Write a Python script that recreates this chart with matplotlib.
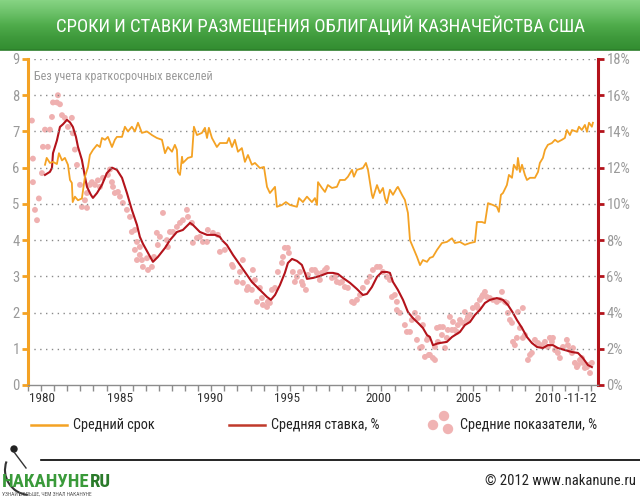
import numpy as np
import matplotlib
matplotlib.use('Agg')
import matplotlib.pyplot as plt
from matplotlib import font_manager
from matplotlib.patches import Circle, Arc
from matplotlib.colors import LinearSegmentedColormap

# ---------------- data ----------------
maturity_years = [1980.18,1980.28,1980.47,1980.65,1980.88,1981.00,1981.18,1981.35,1981.53,1981.65,1981.76,1981.81,1981.94,1982.12,1982.35,1982.53,1982.71,1982.82,1983.00,1983.24,1983.41,1983.53,1983.71,1983.88,1984.12,1984.29,1984.41,1984.71,1984.88,1985.06,1985.29,1985.47,1985.65,1985.88,1986.18,1986.47,1986.76,1987.06,1987.24,1987.41,1987.65,1987.82,1987.94,1988.00,1988.12,1988.24,1988.29,1988.59,1988.82,1988.94,1989.12,1989.41,1989.59,1989.71,1989.82,1990.00,1990.29,1990.47,1990.88,1991.00,1991.18,1991.35,1991.53,1991.76,1991.94,1992.12,1992.35,1992.53,1992.82,1993.06,1993.24,1993.41,1993.71,1993.82,1994.12,1994.35,1994.59,1995.00,1995.12,1995.35,1995.59,1995.88,1996.06,1996.18,1996.24,1996.47,1996.65,1996.82,1997.06,1997.35,1997.53,1997.82,1998.00,1998.24,1998.35,1998.53,1998.88,1999.06,1999.18,1999.41,1999.47,1999.71,1999.88,2000.06,2000.18,2000.29,2000.47,2000.65,2000.88,2000.94,2001.18,2001.35,2001.53,2001.65,2001.82,2002.06,2002.24,2002.41,2002.65,2002.82,2003.00,2003.24,2003.53,2003.82,2004.12,2004.29,2004.59,2004.88,2005.18,2005.47,2005.59,2005.88,2006.06,2006.24,2006.53,2006.76,2006.88,2007.00,2007.12,2007.35,2007.47,2007.65,2007.76,2007.94,2008.00,2008.12,2008.24,2008.41,2008.53,2008.71,2009.00,2009.18,2009.29,2009.47,2009.59,2009.76,2010.00,2010.18,2010.35,2010.59,2010.76,2010.88,2011.06,2011.18,2011.47,2011.59,2011.76,2011.94,2012.06,2012.18,2012.35,2012.41]
maturity_values = [6.08,6.27,6.13,6.16,6.10,6.40,6.20,6.27,6.08,5.66,5.58,5.05,5.20,5.10,5.15,5.75,6.02,6.35,6.49,6.63,6.57,6.82,6.77,6.85,6.57,6.77,6.85,6.85,7.13,7.00,7.13,7.00,7.24,6.96,7.00,6.90,6.82,6.77,6.40,6.57,6.44,6.63,6.49,5.88,5.80,6.30,6.13,6.27,6.30,7.13,6.90,6.96,7.10,6.82,7.10,6.82,6.57,6.68,6.68,6.82,6.57,6.77,6.44,6.54,6.16,6.35,6.08,6.13,5.99,6.02,5.47,5.30,5.47,4.92,4.97,5.05,4.97,4.92,5.16,5.05,5.20,5.05,5.16,4.97,5.60,5.44,5.33,5.52,5.44,5.47,5.66,5.66,5.75,5.94,5.75,5.94,5.99,6.13,5.94,5.25,5.16,5.52,5.30,5.44,5.16,5.02,5.39,5.25,5.44,5.47,5.25,5.11,4.75,4.00,3.81,3.54,3.31,3.45,3.40,3.51,3.54,3.73,3.92,3.95,4.05,3.92,3.95,3.87,3.92,3.95,4.50,4.50,4.47,5.02,4.97,4.92,4.78,5.25,5.30,5.52,5.80,5.72,6.08,5.94,6.27,5.88,6.08,5.80,5.66,5.72,5.72,5.88,6.13,6.27,6.49,6.63,6.68,6.77,6.71,6.77,6.82,7.04,6.90,7.04,6.99,7.13,7.04,7.18,6.99,7.24,7.13,7.24]

rate_years = [1980.18,1980.47,1980.59,1980.65,1980.88,1981.06,1981.24,1981.47,1981.65,1981.82,1982.00,1982.12,1982.35,1982.53,1982.65,1982.88,1983.00,1983.24,1983.53,1983.82,1984.12,1984.41,1984.71,1985.00,1985.29,1985.59,1985.76,1985.94,1986.24,1986.53,1986.82,1987.24,1987.53,1987.94,1988.29,1988.71,1988.88,1989.29,1989.71,1990.18,1990.47,1990.59,1990.88,1991.24,1991.65,1992.06,1992.35,1992.65,1992.94,1993.24,1993.47,1993.71,1994.00,1994.29,1994.47,1994.71,1995.00,1995.29,1995.47,1995.59,1995.94,1996.35,1996.82,1997.12,1997.41,1997.71,1998.12,1998.53,1998.88,1999.12,1999.41,1999.71,2000.00,2000.29,2000.47,2000.65,2000.94,2001.24,2001.53,2001.82,2002.12,2002.41,2002.65,2002.82,2003.00,2003.29,2003.82,2004.12,2004.59,2004.88,2005.18,2005.47,2005.76,2006.06,2006.35,2006.76,2007.12,2007.41,2007.71,2007.94,2008.24,2008.53,2008.82,2009.12,2009.47,2009.76,2010.06,2010.35,2010.76,2011.18,2011.53,2011.82,2012.12,2012.35]
rate_values = [11.60,11.77,11.99,12.80,13.50,14.25,14.40,14.64,14.50,14.25,13.70,13.15,12.43,11.50,10.94,10.50,10.33,10.60,11.05,11.70,12.00,11.88,11.44,10.60,9.67,8.84,8.18,7.80,7.29,6.80,7.07,7.57,8.00,8.45,8.56,8.95,8.84,8.45,8.29,8.29,8.18,8.00,7.73,7.18,6.63,6.08,5.69,5.41,5.14,4.86,4.70,4.97,5.52,6.19,6.74,6.96,6.85,6.63,6.19,5.86,5.91,6.02,6.19,6.19,6.13,5.91,5.64,5.30,4.97,5.03,5.41,5.97,6.24,6.24,6.19,5.69,5.25,4.70,4.03,3.70,3.43,3.15,2.76,2.65,2.20,2.30,2.38,2.65,2.93,3.31,3.48,3.87,4.14,4.53,4.70,4.80,4.70,4.42,3.98,3.59,3.15,2.65,2.32,2.10,2.04,2.20,2.20,2.04,1.93,1.82,1.77,1.49,1.10,0.99]

avg_years = [1979.41,1979.47,1979.47,1979.59,1979.71,1979.82,1980.00,1980.06,1980.18,1980.35,1980.47,1980.59,1980.65,1980.88,1980.94,1981.06,1981.18,1981.35,1981.53,1981.76,1981.82,1981.94,1982.06,1982.24,1982.35,1982.53,1982.65,1982.65,1982.82,1982.94,1983.12,1983.29,1983.41,1983.59,1983.88,1984.00,1984.12,1984.18,1984.29,1984.47,1984.59,1984.76,1985.00,1985.18,1985.29,1985.47,1985.59,1985.76,1985.47,1985.76,1985.59,1985.88,1986.18,1985.94,1986.24,1986.47,1986.59,1986.82,1986.76,1986.94,1987.12,1987.35,1987.41,1987.53,1987.71,1987.94,1988.12,1988.29,1988.53,1988.59,1988.82,1988.88,1989.12,1989.29,1989.47,1989.71,1989.76,1990.06,1990.35,1990.47,1990.76,1991.18,1991.24,1991.47,1991.65,1991.82,1991.82,1992.06,1992.12,1992.35,1992.41,1992.53,1992.65,1992.82,1992.94,1993.00,1993.24,1993.29,1993.41,1993.53,1993.71,1993.88,1994.12,1994.18,1994.29,1994.47,1994.53,1994.76,1994.88,1995.00,1995.18,1995.29,1995.35,1995.53,1995.65,1995.88,1996.06,1996.18,1996.35,1996.47,1996.65,1996.76,1997.06,1997.24,1997.35,1997.53,1997.65,1997.82,1998.00,1998.24,1998.35,1998.53,1998.71,1998.88,1999.12,1999.29,1999.47,1999.71,1999.88,2000.06,2000.29,2000.47,2000.59,2000.76,2000.88,2000.88,2001.06,2001.35,2001.47,2001.65,2001.76,2001.94,2002.06,2002.12,2002.24,2002.35,2002.41,2002.53,2002.65,2002.71,2002.76,2002.82,2003.00,2003.12,2003.12,2003.24,2003.29,2003.41,2003.53,2003.59,2003.71,2003.82,2003.88,2004.00,2004.12,2004.18,2004.29,2004.41,2004.47,2004.59,2004.76,2004.88,2005.00,2005.06,2005.18,2005.35,2005.59,2005.65,2005.76,2005.88,2005.94,2006.06,2006.18,2006.35,2006.53,2006.76,2006.94,2007.06,2007.24,2007.35,2007.41,2007.53,2007.65,2007.71,2007.82,2007.94,2008.00,2008.12,2008.29,2008.29,2008.41,2008.59,2008.71,2008.82,2009.00,2009.18,2009.41,2009.59,2009.76,2009.88,2010.00,2010.06,2010.18,2010.35,2010.47,2010.65,2010.88,2010.94,2011.06,2011.18,2011.24,2011.35,2011.47,2011.53,2011.65,2011.76,2011.82,2011.94,2012.06,2012.12,2012.24,2012.35]
avg_values = [14.60,12.50,11.20,9.67,9.10,10.30,11.70,13.15,14.10,13.15,14.10,14.80,15.60,15.60,16.00,15.50,14.90,14.75,14.25,14.75,13.90,13.00,12.15,11.05,9.83,10.20,9.78,10.60,11.05,11.20,11.05,11.30,10.94,11.44,11.60,11.90,11.20,10.94,10.60,10.66,10.40,10.05,9.67,9.28,8.45,8.56,7.90,7.62,7.46,7.18,6.90,6.90,7.00,6.52,6.35,6.52,7.07,7.73,8.40,8.18,9.50,8.00,7.62,8.45,8.45,8.73,8.95,9.10,9.67,9.28,8.95,7.85,8.12,8.18,7.90,7.90,8.56,8.40,8.29,7.35,7.46,6.63,6.52,5.69,6.24,6.90,5.64,5.25,5.41,5.25,6.35,5.80,4.59,5.36,4.80,4.42,4.31,4.59,4.53,5.25,5.36,6.24,6.74,7.07,7.57,7.57,7.29,6.24,5.69,5.97,6.24,5.69,5.52,5.25,6.08,6.35,6.35,6.19,5.80,6.19,6.35,6.46,5.91,5.97,5.69,5.64,5.69,5.41,5.36,4.59,4.53,4.70,4.97,5.36,5.69,5.97,6.35,6.52,6.52,6.24,5.97,5.80,4.86,4.97,4.59,4.14,3.98,3.31,2.93,2.93,3.59,3.98,2.49,3.70,2.04,2.10,3.31,1.55,2.49,2.60,1.66,1.66,1.49,1.38,2.10,3.15,2.38,3.20,2.76,3.20,2.04,2.60,3.04,3.76,3.04,3.48,3.04,2.93,3.31,3.59,3.43,4.03,3.59,3.76,3.87,4.25,4.42,4.25,4.70,4.86,4.97,5.14,4.86,4.80,4.70,4.59,4.70,5.14,4.59,4.53,3.98,3.59,3.43,2.38,2.20,2.60,4.03,3.15,4.25,2.60,2.76,1.38,1.66,1.77,2.49,2.32,2.20,2.38,2.10,2.60,2.38,2.60,1.93,1.77,1.49,2.10,2.49,2.20,1.93,1.77,2.04,1.22,0.99,1.10,1.38,1.49,1.22,0.94,0.99,1.10,0.66,1.22]

left_ticks = [0, 1, 2, 3, 4, 5, 6, 7, 8, 9]
right_ticks = [0, 2, 4, 6, 8, 10, 12, 14, 16, 18]
xtick_pos = [1980, 1984.6, 1989.9, 1994.4, 1999.8, 2005.1, 2010.8]
xtick_labels = ['1980', '1985', '1990', '1995', '2000', '2005', '2010 -11-12']

title = 'СРОКИ И СТАВКИ РАЗМЕЩЕНИЯ ОБЛИГАЦИЙ КАЗНАЧЕЙСТВА США'
note = 'Без учета краткосрочных векселей'
legend_labels = ['Средний срок', 'Средняя ставка, %', 'Средние показатели, %']

# ---------------- style ----------------
avail = {f.name for f in font_manager.fontManager.ttflist}
FONT = 'DejaVu Sans'
for cand in ['Liberation Sans Narrow', 'Roboto Condensed', 'Open Sans Condensed', 'Liberation Sans']:
    if cand in avail:
        FONT = cand
        break
plt.rcParams['font.family'] = [FONT, 'DejaVu Sans']

ORANGE = '#f4a224'
RED = '#b3131b'
PINK = '#efb0b0'
GREY = '#9a9a9a'

W, H = 640, 500
fig = plt.figure(figsize=(6.4, 5.0), dpi=100)
fig.patch.set_facecolor('white')

def fx(px):
    return px / W

def fy(py):
    return 1 - py / H

# main axes
ax = fig.add_axes([fx(28), fy(385), fx(598) - fx(28), fy(59) - fy(385)])
ax2 = ax.twinx()
ax.set_zorder(ax2.get_zorder() + 1)
ax.patch.set_visible(False)

XMIN, XMAX = 1979.18, 2012.71
ax.set_xlim(XMIN, XMAX)
ax.set_ylim(0, 9)
ax2.set_ylim(0, 18)

for y in left_ticks[1:]:
    ax.axhline(y, color='#8a8a8a', lw=1.0, ls=(0, (1, 3.2)), zorder=0)

ax2.scatter(avg_years, avg_values, s=18, color=PINK, edgecolors='none', zorder=2)
ax2.plot(rate_years, rate_values, color=RED, lw=1.5, zorder=3)
ax.plot(maturity_years, maturity_values, color=ORANGE, lw=1.3, zorder=4)

for a in (ax, ax2):
    a.spines['top'].set_visible(False)
ax.spines['right'].set_visible(False)
ax.spines['left'].set_color(ORANGE)
ax.spines['left'].set_linewidth(2.2)
ax2.spines['left'].set_visible(False)
ax2.spines['right'].set_color(RED)
ax2.spines['right'].set_linewidth(2.2)
ax.spines['bottom'].set_color('#8c8c8c')
ax.spines['bottom'].set_linewidth(1.0)
ax2.spines['bottom'].set_visible(False)

ax.set_yticks(left_ticks)
ax.set_yticklabels([str(v) for v in left_ticks])
ax.tick_params(axis='y', colors=ORANGE, labelcolor=GREY, labelsize=10.5,
               length=4, width=2, pad=2)
ax2.set_yticks(right_ticks)
ax2.set_yticklabels([f'{v}%' for v in right_ticks])
ax2.tick_params(axis='y', colors=RED, labelcolor=GREY, labelsize=10.5,
                length=4, width=2, pad=2)

ax.set_xticks(xtick_pos)
ax.set_xticklabels(xtick_labels)
ax.set_xticks(np.arange(XMIN, XMAX, 0.77), minor=True)
ax.tick_params(axis='x', which='major', length=0, labelsize=9.5,
               labelcolor='#333333', pad=5)
ax.tick_params(axis='x', which='minor', length=4, width=1, color='#8c8c8c')

ax.text(0.011, 0.965, note, transform=ax.transAxes, fontsize=8.7,
        color=GREY, ha='left', va='top')

# ---------------- overlay: header ----------------
ov = fig.add_axes([0, 0, 1, 1], zorder=-5)
ov.set_xlim(0, W)
ov.set_ylim(H, 0)
ov.axis('off')

grad = np.linspace(0, 1, 50)[:, None]
cmap = LinearSegmentedColormap.from_list('g', ['#86d383', '#6cc169', '#4fac4b', '#3f9a3c', '#338d31'])
ov.imshow(grad, extent=[0, W, 50, 0], cmap=cmap, aspect='auto', zorder=1)
ov.plot([0, W], [50, 50], color='#2e7f2c', lw=1.2, zorder=2)
ov.text(W / 2, 26, title, color='white', fontsize=13.5, ha='center', va='center', zorder=3)

# ---------------- overlay: legend, footer ----------------
ov2 = fig.add_axes([0, 0, 1, 1], zorder=10)
ov2.set_xlim(0, W)
ov2.set_ylim(H, 0)
ov2.axis('off')

ov2.plot([31, 67], [425, 425], color=ORANGE, lw=1.8)
ov2.text(73, 425, legend_labels[0], fontsize=10.3, va='center', ha='left', color='#222222')
ov2.plot([229, 265], [425, 425], color='#c0392b', lw=1.8)
ov2.text(271, 425, legend_labels[1], fontsize=10.3, va='center', ha='left', color='#222222')
for cx, cy in [(444, 416), (433, 425), (448, 429)]:
    ov2.add_patch(Circle((cx, cy), 5.2, color='#f0b3b3', lw=0))
ov2.text(460, 425, legend_labels[2], fontsize=10.3, va='center', ha='left', color='#222222')

ov2.plot([41, W], [460, 460], color='black', lw=1.2)
ov2.add_patch(Arc((30, 470), 50, 50, theta1=95, theta2=200, color='#333333', lw=1.5))
ov2.plot([14, 26], [452, 468], color='#333333', lw=1.0)
ov2.add_patch(Circle((14, 449), 3, color='#222222'))
logo = ov2.text(2, 482, 'НАКАНУНЕ', fontsize=13.5, fontweight='bold', color='#3a9a3a',
                ha='left', va='center')
ov2.annotate('RU', xy=(1, 0.5), xycoords=logo, fontsize=13.5, fontweight='bold',
             color='#2a7a2a', ha='left', va='center')
ov2.text(2, 494, 'УЗНАЙ БОЛЬШЕ, ЧЕМ ЗНАЛ НАКАНУНЕ', fontsize=4.0, color='#555555',
         ha='left', va='center')
ov2.text(636, 481, '© 2012 www.nakanune.ru', fontsize=10.5, color='#222222',
         ha='right', va='center')

fig.savefig('out.png', dpi=100)
